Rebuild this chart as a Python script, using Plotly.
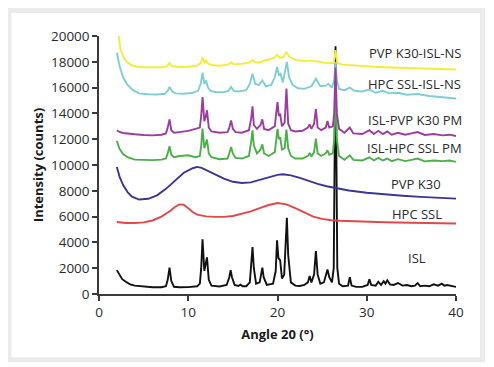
import plotly.graph_objects as go

# ---- data ----
isl_x = [2.0, 2.3, 2.6, 3.0, 3.5, 4.0, 5.0, 6.0, 7.0, 7.5, 7.7, 7.9, 8.1, 8.4, 9, 10, 11, 11.3, 11.45, 11.6,
         11.8, 11.95, 12.1, 12.3, 12.6, 13.5, 14.3, 14.6, 14.75, 14.9, 15.2, 15.6, 15.85, 16.1, 16.5, 16.9,
         17.05, 17.2, 17.35, 17.6, 18.0, 18.15, 18.3, 18.45, 18.8, 19.5, 19.8, 19.95, 20.1, 20.3, 20.5, 20.75,
         20.9, 21.05, 21.2, 21.5, 22, 22.5, 23, 23.4, 23.6, 23.8, 24.1, 24.3, 24.5, 24.8, 25.2, 25.45, 25.6,
         25.8, 26.1, 26.3, 26.5, 26.7, 26.9, 27.3, 27.9, 28.1, 28.3, 28.8, 29.5, 30.1, 30.3, 30.5, 31.0, 31.3,
         31.6, 31.9, 32.1, 32.3, 32.6, 33.0, 33.5, 34.0, 34.5, 35.0, 35.4, 35.7, 36.0, 36.5, 37.0, 37.5, 38.0,
         38.4, 38.7, 39.0, 39.5, 40.0]
isl_y = [1850, 1450, 1150, 950, 750, 650, 560, 520, 520, 600, 1100, 2050, 1000, 560, 520, 530, 600, 800, 2000, 4240,
         1800, 2400, 2840, 1100, 650, 580, 700, 1300, 1840, 1300, 700, 620, 720, 600, 600, 900,
         2200, 3640, 2000, 800, 900, 1500, 2050, 1300, 700, 800, 1800, 4160, 2800, 2600, 1200, 1500,
         3500, 5900, 3000, 900, 650, 620, 700, 900, 1400, 900, 1500, 3330, 1500, 800, 900, 1500, 1900,
         1300, 900, 2000, 19200, 2000, 800, 600, 650, 1300, 650, 550, 550, 700, 1140, 700, 650, 950,
         700, 1000, 800, 1060, 750, 700, 850, 650, 700, 600, 650, 850, 600, 650, 600, 750, 650,
         800, 650, 700, 600, 550]

hpc_x = [2, 2.5, 3, 4, 5, 6, 7, 8, 8.5, 9, 9.5, 10, 10.5, 11, 12, 13, 14, 15, 16, 17, 18, 19, 20, 21, 22, 23,
         24, 25, 26, 27, 28, 30, 32, 35, 38, 40]
hpc_y = [5580, 5540, 5500, 5500, 5550, 5700, 6000, 6450, 6750, 6950, 6920, 6650, 6350, 6150, 6020, 5980, 5980,
         6050, 6200, 6400, 6650, 6900, 7050, 6950, 6650, 6300, 6000, 5820, 5720, 5680, 5650, 5600, 5560, 5520,
         5490, 5460]

pvp_x = [2, 2.3, 2.7, 3.2, 3.7, 4.5, 5.5, 6.5, 7.5, 8.5, 9.5, 10.5, 11, 11.5, 12, 13, 14, 15, 16, 17, 18, 19, 20,
         20.6, 21.5, 22.5, 23.5, 24.5, 25.5, 26.5, 28, 30, 32, 34, 36, 38, 40]
pvp_y = [9850, 9100, 8450, 7900, 7550, 7320, 7380, 7650, 8150, 8800, 9400, 9750, 9850, 9780, 9620, 9280, 8950,
         8700, 8600, 8650, 8850, 9080, 9230, 9280, 9200, 9000, 8750, 8530, 8350, 8200, 8020, 7850, 7720, 7620,
         7530, 7450, 7390]

pm_x = [2, 2.3, 2.7, 3.2, 4, 5, 6, 7, 7.5, 7.7, 7.9, 8.1, 8.4, 9, 10, 10.8, 11.3, 11.45, 11.6, 11.8, 11.95,
        12.1, 12.3, 12.6, 13.5, 14.4, 14.6, 14.8, 15.0, 15.3, 16, 16.8, 17.05, 17.2, 17.35, 17.7, 18.1, 18.3,
        18.5, 19.0, 19.7, 19.85, 20.0, 20.15, 20.3, 20.5, 20.8, 21.0, 21.2, 21.5, 22, 22.8, 23.4, 23.6, 23.8,
        24.1, 24.3, 24.5, 24.9, 25.4, 25.6, 25.8, 26.2, 26.35, 26.5, 26.65, 26.9, 27.5, 28.1, 28.5, 29.5, 30.3,
        30.8, 31.3, 31.8, 32.3, 32.8, 33.5, 34.3, 35.0, 35.7, 36.5, 37.5, 38.5, 39.3, 40]
hpcpm_y = [11860, 11250, 10850, 10600, 10420, 10380, 10380, 10420, 10500, 10900, 11450, 10800, 10600, 10700,
           10750, 10600, 10700, 11500, 12820, 11300, 11600, 11970, 10900, 10600, 10450, 10500, 10900, 11400,
           10900, 10550, 10500, 10700, 11800, 12690, 11500, 10900, 11200, 11600, 10900, 10700, 11000, 11900,
           12800, 12000, 12170, 11200, 11300, 12750, 11300, 10700, 10500, 10500, 10700, 10930, 10650, 11000,
           12050, 10900, 10700, 10900, 11140, 10800, 10900, 12000, 17000, 12000, 10700, 10400, 10750, 10400,
           10350, 10600, 10350, 10550, 10350, 10500, 10300, 10450, 10300, 10400, 10500, 10280, 10350, 10300,
           10350, 10240]
pvppm_y = [12690, 12560, 12480, 12430, 12380, 12330, 12300, 12350, 12450, 12900, 13540, 12700, 12500, 12550,
           12650, 12800, 12900, 13800, 15270, 13400, 13700, 14240, 12900, 12600, 12500, 12550, 12900, 13460,
           12800, 12550, 12500, 12700, 13600, 14550, 13100, 12800, 13100, 13540, 12800, 12700, 13000, 14000,
           14880, 13800, 13980, 13000, 13300, 15920, 13200, 12700, 12600, 12650, 12900, 13150, 12800, 13200,
           14340, 12900, 12700, 12900, 13410, 12900, 13000, 14000, 17550, 14000, 12800, 12500, 12900, 12450,
           12400, 12700, 12400, 12650, 12400, 12600, 12350, 12500, 12350, 12450, 12550, 12330, 12400, 12300,
           12350, 12250]

hpcns_x = [2, 2.3, 2.7, 3.2, 3.8, 4.5, 5.5, 6.5, 7.4, 7.7, 7.9, 8.2, 8.6, 9.5, 10.5, 11.1, 11.4, 11.6, 11.8, 12.0,
           12.2, 12.5, 13, 14, 14.5, 14.8, 15.1, 15.6, 16.5, 16.9, 17.2, 17.5, 17.9, 18.3, 18.7, 19.3, 19.7,
           19.95, 20.15, 20.35, 20.6, 20.85, 21.05, 21.3, 21.7, 22.3, 23, 23.8, 24.3, 24.8, 25.4, 25.7, 26.1,
           26.35, 26.5, 26.65, 26.9, 27.5, 28.1, 28.6, 29.5, 30.3, 31, 31.8, 32.5, 33.5, 34.5, 35.7, 37, 38.5, 40]
hpcns_y = [18690, 17700, 16800, 16200, 15800, 15550, 15480, 15460, 15520, 15750, 16050, 15700, 15550, 15520,
           15600, 15750, 16300, 17160, 16300, 16560, 16000, 15750, 15650, 15650, 15750, 16050, 15750, 15700,
           15800, 16300, 17080, 16300, 16200, 16560, 16100, 16200, 16800, 17600, 17000, 17080, 16400, 17300,
           17990, 16800, 16200, 15950, 15900, 16100, 16690, 16100, 16150, 16300, 16000, 16600, 18000, 16600,
           15900, 15800, 16000, 15750, 15700, 15850, 15600, 15750, 15550, 15600, 15450, 15500, 15350, 15250,
           15150]

pvpns_x = [2.2, 2.4, 2.7, 3.1, 3.6, 4.3, 5, 6, 7, 7.6, 7.9, 8.2, 9, 10, 11, 11.4, 11.6, 11.8, 12.0, 12.2, 12.6,
           13.5, 14.5, 14.8, 15.1, 16, 16.9, 17.2, 17.5, 18, 18.5, 19.2, 19.7, 19.95, 20.3, 20.7, 21.0, 21.3,
           22, 23, 23.7, 24.3, 25, 25.8, 26.3, 26.5, 26.7, 27.3, 28.2, 30, 32, 35, 38, 40]
pvpns_y = [20000, 19000, 18400, 18000, 17750, 17620, 17580, 17560, 17580, 17650, 17900, 17650, 17600, 17620,
           17700, 17900, 18320, 17950, 18110, 17850, 17750, 17700, 17800, 17950, 17800, 17850, 17950, 18160,
           17950, 17950, 18100, 18200, 18350, 18550, 18300, 18400, 18760, 18400, 18150, 18050, 18110, 18050,
           17950, 17900, 17900, 18900, 17900, 17780, 17730, 17650, 17580, 17500, 17450, 17400]

labels = ["PVP K30-ISL-NS", "HPC SSL-ISL-NS", "ISL-PVP K30 PM", "ISL-HPC SSL PM", "PVP K30", "HPC SSL", "ISL"]
label_x = [35.4, 35.4, 35.4, 35.4, 35.5, 35.6, 35.6]
label_y = [18710, 16310, 13465, 11320, 8560, 6230, 2820]

x_ticks = [0, 10, 20, 30, 40]
y_ticks = [0, 2000, 4000, 6000, 8000, 10000, 12000, 14000, 16000, 18000, 20000]
y_tick_text = ["0", "2000", "4000", "6000", "8000", "10000", "12000", "14000", "16000", "18000", "20000"]

# ---- figure ----
series = [
    (isl_x, isl_y, "#111111", "ISL"),
    (hpc_x, hpc_y, "#e2474a", "HPC SSL"),
    (pvp_x, pvp_y, "#3b3696", "PVP K30"),
    (pm_x, hpcpm_y, "#4cb04a", "ISL-HPC SSL PM"),
    (hpcns_x, hpcns_y, "#7fcfd2", "HPC SSL-ISL-NS"),
    (pvpns_x, pvpns_y, "#f3ec3c", "PVP K30-ISL-NS"),
    (pm_x, pvppm_y, "#9c3c9e", "ISL-PVP K30 PM"),
]

fig = go.Figure()
for xs, ys, col, name in series:
    fig.add_trace(go.Scatter(x=xs, y=ys, mode="lines", name=name,
                             line=dict(color=col, width=1.9), hoverinfo="skip"))

for t, lx, ly in zip(labels, label_x, label_y):
    fig.add_annotation(x=lx, y=ly, text=t, showarrow=False, xanchor="center", yanchor="middle",
                       font=dict(family="Open Sans", size=13, color="#2b2b2b"))

# page offsets the figure by 8px; margins are set so the plot lands where the reference has it
L, R, T, B = 91, 46, 28, 81
PW, PH = 494 - L - R, 367 - T - B


def px_to_paper_x(px):
    return (px - 8 - L) / PW


def px_to_paper_y(py):
    return (T + PH - (py - 8)) / PH


# outer light-grey frame
fig.add_shape(type="rect", xref="paper", yref="paper",
              x0=px_to_paper_x(9), x1=px_to_paper_x(482.5),
              y0=px_to_paper_y(359.7), y1=px_to_paper_y(10.5),
              line=dict(color="#ebebeb", width=5), fillcolor="rgba(0,0,0,0)", layer="below")

axis_font = dict(family="Open Sans", size=13.5, color="#2b2b2b")
fig.update_layout(
    width=494, height=367,
    margin=dict(l=L, r=R, t=T, b=B),
    paper_bgcolor="white", plot_bgcolor="white",
    showlegend=False,
    xaxis=dict(range=[0, 40], tickvals=x_ticks, ticks="outside", ticklen=5, tickwidth=1.5,
               tickcolor="#3a3a3a", showline=True, linecolor="#3a3a3a", linewidth=1.5,
               showgrid=False, zeroline=False, tickfont=axis_font, automargin=False,
               title=dict(text="<b>Angle 20 (°)</b>", font=dict(family="Open Sans", size=13, color="#1a1a1a"),
                          standoff=10)),
    yaxis=dict(range=[0, 20000], tickvals=y_ticks, ticktext=y_tick_text, ticks="outside", ticklen=5,
               tickwidth=1.5, tickcolor="#3a3a3a", showline=True, linecolor="#3a3a3a", linewidth=1.5,
               showgrid=False, zeroline=False, tickfont=axis_font, automargin=False,
               title=dict(text="<b>Intensity (counts)</b>", font=dict(family="Open Sans", size=13, color="#1a1a1a"),
                          standoff=4)),
)

fig.write_html("out.html")
